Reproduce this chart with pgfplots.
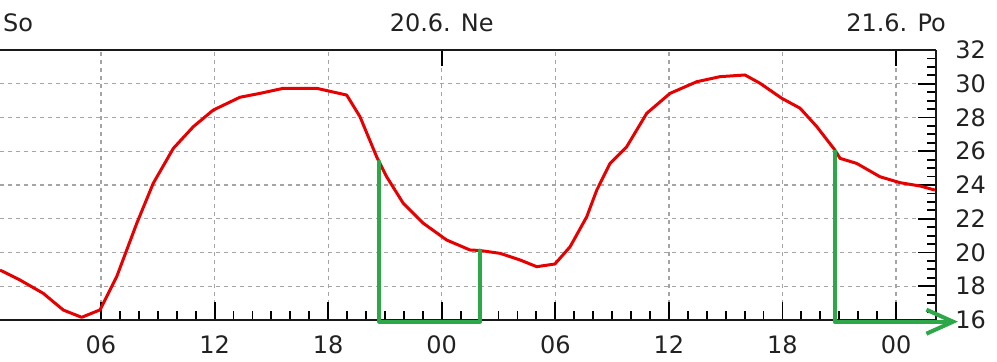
\documentclass[border=0pt]{standalone}
\usepackage{fontspec}
\setmainfont{DejaVu Sans}
\usepackage{pgfplots}
\pgfplotsset{compat=1.18}
\usetikzlibrary{arrows.meta}
\definecolor{tred}{RGB}{230,0,0}
\definecolor{tgreen}{RGB}{44,168,72}
\definecolor{tgrid}{RGB}{165,165,165}
\definecolor{ttext}{RGB}{34,34,34}
\begin{document}
\begin{tikzpicture}
\begin{axis}[
  name=main,
  scale only axis, width=702pt, height=202.5pt,
  xmin=0.665, xmax=50.11, ymin=16, ymax=32,
  axis x line*=box, axis y line*=right,
  clip=false,
  xtick={6,12,18,24,30,36,42,48},
  xticklabels={06,12,18,00,06,12,18,00},
  minor x tick num=5,
  xtick pos=bottom,
  ytick={16,18,...,32},
  minor y tick num=3,
  ytick pos=right, yticklabel pos=right,
  tick align=inside,
  major tick length=13.5pt, minor tick length=6.75pt,
  every tick/.style={line width=1.4pt, black},
  axis line style={line width=1.6pt, black!90},
  xmajorgrids, ymajorgrids,
  major grid style={tgrid, line width=0.9pt, dash pattern=on 3pt off 3pt},
  /pgf/number format/assume math mode=true,
  ticklabel style={font=\fontsize{18}{21}\selectfont, text=ttext, inner sep=0pt},
  xticklabel style={anchor=north, yshift=-11.25pt},
  yticklabel style={anchor=west, xshift=14.25pt},
]
\addplot[tred, line width=2.25pt, line join=round] coordinates {
(0.665,18.96) (1.72,18.37) (2.95,17.58) (4.01,16.59) (4.98,16.16) (5.95,16.6)
(6.83,18.57) (7.89,21.73) (8.76,24.1) (9.82,26.17) (10.88,27.46) (11.93,28.44)
(13.34,29.2) (14.4,29.43) (15.63,29.73) (17.39,29.73) (18.98,29.33) (19.68,28.05)
(20.56,25.68) (21.09,24.49) (21.97,22.91) (23.03,21.73) (24.26,20.74) (25.49,20.15)
(26.02,20.12) (27.08,19.95) (28.13,19.56) (29.02,19.16) (29.98,19.32) (30.78,20.34)
(31.66,22.12) (32.19,23.7) (32.89,25.28) (33.77,26.27) (34.83,28.25) (36.06,29.43)
(37.47,30.12) (38.7,30.42) (40.02,30.52) (40.81,30.03) (41.96,29.14) (42.93,28.55)
(43.81,27.46) (44.77,26.07) (45.04,25.58) (45.92,25.28) (47.15,24.49) (48.2,24.14)
(49.27,23.94) (50.05,23.7)
};
\addplot[tgreen, line width=3pt, line join=round, line cap=round] coordinates {
(20.7,25.38) (20.7,15.9) (26.02,15.9) (26.02,20.11)
};
\addplot[tgreen, line width=3pt, line join=round, -{Straight Barb[length=20pt,width=18pt]}] coordinates {
(44.77,26.07) (44.77,15.9) (51.27,15.9)
};
\node[anchor=south west, inner sep=0pt, font=\fontsize{18}{21}\selectfont, text=ttext] at (axis cs:0.81,32) [yshift=13.5pt] {So};
\end{axis}
\begin{axis}[
  at={(main.south west)}, anchor=south west,
  scale only axis, width=702pt, height=202.5pt,
  xmin=0.665, xmax=50.11, ymin=16, ymax=32,
  axis x line*=top, axis y line=none,
  xtick={24,48}, xticklabels={20.6. Ne,21.6. Po},
  ytick=\empty,
  tick align=inside, major tick length=12pt,
  every tick/.style={line width=1.5pt, black},
  axis line style={line width=1.6pt, black!90},
  ticklabel style={font=\fontsize{18}{21}\selectfont, text=ttext, inner sep=0pt},
  xticklabel style={anchor=south, yshift=13.5pt},
]
\end{axis}
\pgfresetboundingbox
\path[use as bounding box] ([yshift=-30.75pt]main.south west) rectangle ([xshift=45.75pt,yshift=37.5pt]main.north east);
\end{tikzpicture}
\end{document}
